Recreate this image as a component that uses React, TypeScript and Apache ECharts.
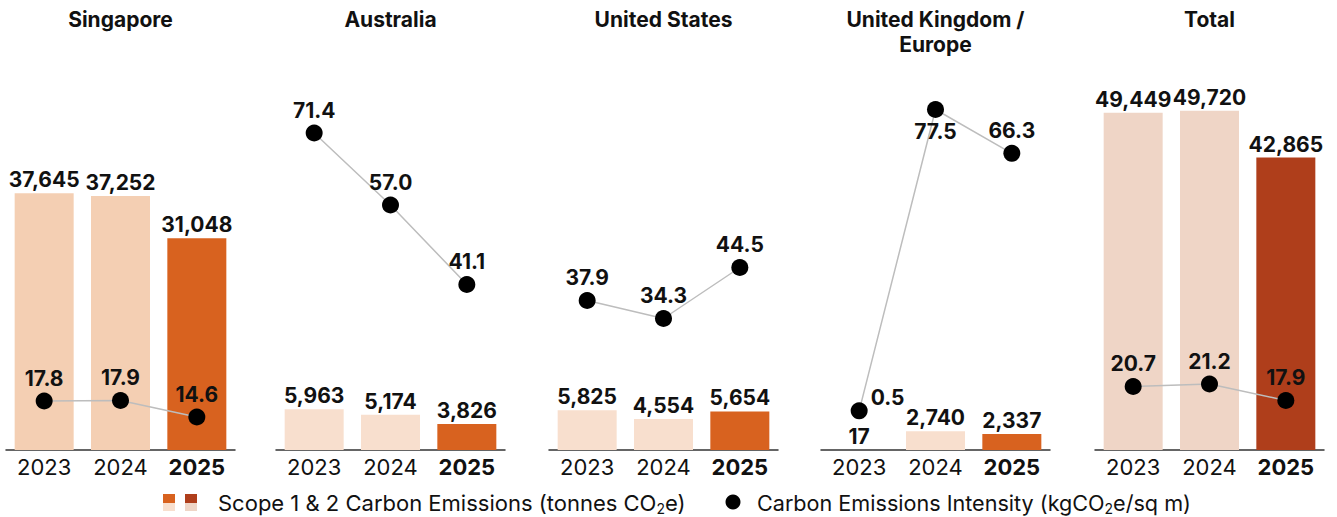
import React, { useEffect, useRef } from "react";
import * as echarts from "echarts";

const regions = ["Singapore", "Australia", "United States", "United Kingdom /\nEurope", "Total"];
const years = ["2023", "2024", "2025"];

const singaporeEmissions = [37645, 37252, 31048];
const australiaEmissions = [5963, 5174, 3826];
const usEmissions = [5825, 4554, 5654];
const ukEmissions = [17, 2740, 2337];
const totalEmissions = [49449, 49720, 42865];

const singaporeIntensity = [17.8, 17.9, 14.6];
const australiaIntensity = [71.4, 57.0, 41.1];
const usIntensity = [37.9, 34.3, 44.5];
const ukIntensity = [0.5, 77.5, 66.3];
const totalIntensity = [20.7, 21.2, 17.9];

const emissions = [singaporeEmissions, australiaEmissions, usEmissions, ukEmissions, totalEmissions];
const intensity = [singaporeIntensity, australiaIntensity, usIntensity, ukIntensity, totalIntensity];

// styling / layout (not data)
const FONT = "Inter, 'Noto Sans', sans-serif";
const gridLefts = [6, 276, 549, 821, 1095];
const gridWidth = 229;
const gridTop = 50;
const gridHeight = 400;
const barColors = [
  ["#F4CFB3", "#F4CFB3", "#D8621F"],
  ["#F8DFCE", "#F8DFCE", "#D8621F"],
  ["#F8DFCE", "#F8DFCE", "#D8621F"],
  ["#F8DFCE", "#F8DFCE", "#D8621F"],
  ["#EFD5C6", "#EFD5C6", "#AF3E1B"],
];
const lineAxisRange = [
  [8, 88],
  [8, 88],
  [8, 88],
  [-9.5, 92.7],
  [8, 88],
];
const pointLabelOverrides: Record<string, any> = {
  "3-0": { position: "right", distance: 3, offset: [0, -13] },
  "3-1": { position: "bottom", distance: 3 },
};

const fmt = (v: number) => v.toLocaleString("en-US");

export default function App() {
  const ref = useRef<HTMLDivElement>(null);
  useEffect(() => {
    if (!ref.current) return;
    const chart = echarts.init(ref.current, null, { renderer: "svg" });

    const grid: any[] = [];
    const xAxis: any[] = [];
    const yAxis: any[] = [];
    const series: any[] = [];
    const graphic: any[] = [];

    regions.forEach((name, i) => {
      grid.push({ left: gridLefts[i], top: gridTop, width: gridWidth, height: gridHeight });
      xAxis.push({
        type: "category",
        gridIndex: i,
        data: years,
        axisLine: { lineStyle: { color: "#333", width: 1.5 } },
        axisTick: { show: false },
        axisLabel: {
          interval: 0,
          fontSize: 22,
          fontFamily: FONT,
          color: "#111",
          margin: 6,
          formatter: (v: string) => (v === "2025" ? `{b|${v}}` : v),
          rich: { b: { fontSize: 22, fontWeight: "bold", fontFamily: FONT, color: "#111" } },
        },
      });
      yAxis.push({ type: "value", gridIndex: i, min: 0, max: 58640, show: false });
      yAxis.push({
        type: "value",
        gridIndex: i,
        min: lineAxisRange[i][0],
        max: lineAxisRange[i][1],
        show: false,
      });
      series.push({
        type: "bar",
        xAxisIndex: i,
        yAxisIndex: 2 * i,
        barWidth: 59,
        data: emissions[i].map((v, j) => ({ value: v, itemStyle: { color: barColors[i][j] } })),
        label: {
          show: true,
          position: "top",
          distance: 3,
          formatter: (p: any) => fmt(p.value),
          fontSize: 21,
          fontWeight: "bold",
          fontFamily: FONT,
          color: "#111",
        },
        z: 2,
      });
      series.push({
        type: "line",
        xAxisIndex: i,
        yAxisIndex: 2 * i + 1,
        symbol: "circle",
        symbolSize: 17,
        itemStyle: { color: "#000" },
        lineStyle: { color: "#BDBDBD", width: 1.5 },
        data: intensity[i].map((v, j) => {
          const o = pointLabelOverrides[`${i}-${j}`];
          return o ? { value: v, label: o } : { value: v };
        }),
        label: {
          show: true,
          position: "top",
          distance: 4,
          formatter: (p: any) => p.value.toFixed(1),
          fontSize: 21,
          fontWeight: "bold",
          fontFamily: FONT,
          color: "#111",
        },
        z: 5,
      });
      const cx = gridLefts[i] + gridWidth / 2;
      graphic.push({
        type: "text",
        x: cx,
        y: 7,
        style: {
          text: name,
          fontSize: 21,
          fontWeight: "bold",
          fontFamily: FONT,
          fill: "#111",
          align: "center",
          verticalAlign: "top",
          lineHeight: 25,
        },
      });
    });

    // legend
    const legendY = 494;
    const subStyle = { fontSize: 14, fontFamily: FONT, fill: "#111", verticalAlign: "bottom", lineHeight: 14, padding: [10, 0, 0, 0] };
    graphic.push(
      { type: "rect", shape: { x: 163, y: legendY, width: 12, height: 9 }, style: { fill: "#D8621F" } },
      { type: "rect", shape: { x: 163, y: legendY + 9, width: 12, height: 8 }, style: { fill: "#F8DFCE" } },
      { type: "rect", shape: { x: 185, y: legendY, width: 12, height: 9 }, style: { fill: "#AF3E1B" } },
      { type: "rect", shape: { x: 185, y: legendY + 9, width: 12, height: 8 }, style: { fill: "#EFD5C6" } },
      {
        type: "text",
        x: 218,
        y: 503,
        style: {
          text: "Scope 1 & 2 Carbon Emissions (tonnes CO{s|2}e)",
          fontSize: 22,
          fontFamily: FONT,
          fill: "#111",
          align: "left",
          verticalAlign: "middle",
          lineHeight: 24,
          rich: { s: subStyle },
        },
      },
      { type: "circle", shape: { cx: 733, cy: 502, r: 7.5 }, style: { fill: "#000" } },
      {
        type: "text",
        x: 757,
        y: 503,
        style: {
          text: "Carbon Emissions Intensity (kgCO{s|2}e/sq m)",
          fontSize: 21.6,
          fontFamily: FONT,
          fill: "#111",
          align: "left",
          verticalAlign: "middle",
          lineHeight: 24,
          rich: { s: subStyle },
        },
      }
    );

    chart.setOption({
      animation: false,
      backgroundColor: "#fff",
      grid,
      xAxis,
      yAxis,
      series,
      graphic,
    });
    return () => chart.dispose();
  }, []);

  return (
    <div
      ref={ref}
      style={{ position: "fixed", left: 0, top: 0, width: 1337, height: 517 }}
    />
  );
}
